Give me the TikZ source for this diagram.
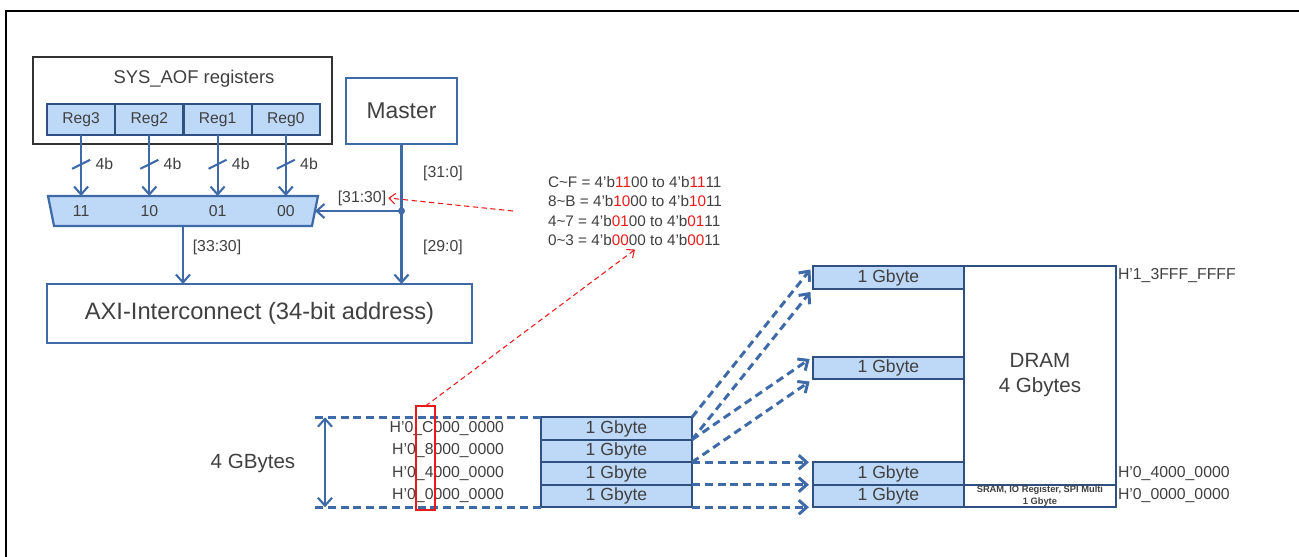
\documentclass[tikz,border=0pt]{standalone}
\usepackage{fontspec}
\setmainfont{Liberation Sans}
\usetikzlibrary{arrows.meta,positioning,shapes.geometric,calc}

\definecolor{wireblue}{RGB}{62,106,167}
\definecolor{cellline}{RGB}{47,80,128}
\definecolor{cellfill}{RGB}{190,216,247}
\definecolor{textgray}{RGB}{64,64,64}
\definecolor{framegray}{RGB}{51,51,51}
\definecolor{hired}{RGB}{235,25,25}

\newcommand{\hi}[1]{\textcolor{hired}{#1}}

\begin{document}
\begin{tikzpicture}[
    x=0.02cm, y=-0.02cm,
    every node/.style={text=textgray},
    cell/.style={draw=cellline, fill=cellfill, line width=1.3pt, minimum width=3.02cm, minimum height=0.45cm, inner sep=0pt, outer sep=0pt, font=\fontsize{10}{12}\selectfont},
    reg/.style={cell, minimum width=1.365cm, minimum height=0.62cm, font=\fontsize{8.9}{10}\selectfont},
    blk/.style={draw=wireblue, line width=1.3pt, inner sep=0pt, outer sep=0pt, align=center},
    lbl/.style={font=\fontsize{9}{11}\selectfont, inner sep=1pt},
    addr/.style={font=\fontsize{9}{11}\selectfont, inner sep=1pt},
    sig/.style={draw=wireblue, line width=1.2pt, -{Straight Barb[length=4.5pt,width=8pt]}},
    map/.style={draw=wireblue, line width=1.7pt, dash pattern=on 4.5pt off 2.8pt, -{Straight Barb[length=4.5pt,width=8pt]}, shorten >=2.3pt},
    guide/.style={draw=wireblue, line width=1.7pt, dash pattern=on 4.5pt off 2.8pt},
    ptr/.style={draw=hired, line width=0.6pt, dash pattern=on 3pt off 2pt, -{Straight Barb[length=3.5pt,width=6pt]}}
]
\useasboundingbox (0,0) rectangle (1299,557);
\draw[line width=1.7pt] (1299,11) -- (6,11) -- (6,557);

% register block and mux
\node[draw=framegray, line width=1.4pt, minimum width=5.98cm, minimum height=1.74cm] (aof) at (182.5,100.5) {};
\node[font=\fontsize{10.5}{12}\selectfont] (aoftitle) at (194,79) {SYS\_AOF registers};
\node[reg] (reg3) at (81.1,119.5) {Reg3};
\node[reg, right=0pt of reg3] (reg2) {Reg2};
\node[reg, right=0pt of reg2] (reg1) {Reg1};
\node[reg, right=0pt of reg1] (reg0) {Reg0};

\node[minimum width=5.4cm, minimum height=0.6cm, inner sep=0pt, outer sep=0pt] (mux) at (183,211) {};
\filldraw[draw=wireblue, fill=cellfill, line width=1.3pt] (mux.north west) -- (mux.north east)
  -- ([xshift=-0.12cm]mux.south east) -- ([xshift=0.12cm]mux.south west) -- cycle;

\foreach \r/\v in {reg3/11,reg2/10,reg1/01,reg0/00}{
  \draw[sig] (\r.south) -- coordinate[pos=0.48] (\r bus) (\r.south |- mux.north);
  \draw[wireblue, line width=1.2pt] ($(\r bus)+(-9,4.5)$) -- ($(\r bus)+(9,-4.5)$);
  \node[lbl, right=7pt of \r bus] {4b};
  \node[lbl] at (\r.center |- mux.center) {\v};
}

\node[blk, minimum width=2.22cm, minimum height=1.32cm, font=\fontsize{13}{15}\selectfont] (master) at (401.5,111) {Master};
\node[blk, minimum width=8.5cm, minimum height=1.18cm, font=\fontsize{13.5}{16}\selectfont] (axi) at (259.5,313.5) {AXI-Interconnect (34-bit address)};

\coordinate (tap) at (master.south |- mux.center);
\draw[sig] (master.south) -- (master.south |- axi.north);
\draw[sig] (tap) -- ([xshift=-0.06cm]mux.east);
\fill[wireblue] (tap) circle (2pt);
\draw[sig] (mux.south) -- (mux.south |- axi.north);

\node[lbl] (b310) at (443,173) {[31:0]};
\node[lbl] (b3130) at (362,198) {[31:30]};
\node[lbl] (b290) at (443,247) {[29:0]};
\node[lbl] (b3330) at (217,247) {[33:30]};

% address bit codes
\node[font=\fontsize{8.7}{11.05}\selectfont, align=left, inner sep=2pt] (codes) at (635,211)
  {C\textasciitilde F = 4’b\hi{11}00 to 4’b\hi{11}11\\
   8\textasciitilde B = 4’b\hi{10}00 to 4’b\hi{10}11\\
   4\textasciitilde 7 = 4’b\hi{01}00 to 4’b\hi{01}11\\
   0\textasciitilde 3 = 4’b\hi{00}00 to 4’b\hi{00}11};
\coordinate (ptrtail) at (513,211);
\draw[ptr] (ptrtail) -- (b3130.east);

% 4 GB address window
\node[cell] (lc) at (616.5,428.5) {1 Gbyte};
\node[cell, below=0pt of lc] (l8) {1 Gbyte};
\node[cell, below=0pt of l8] (l4) {1 Gbyte};
\node[cell, below=0pt of l4] (l0) {1 Gbyte};

\node[addr, left=0.7cm of lc] (ac) {H’0\_C000\_0000};
\node[addr, left=0.7cm of l8] (a8) {H’0\_8000\_0000};
\node[addr, left=0.7cm of l4] (a4) {H’0\_4000\_0000};
\node[addr, left=0.7cm of l0] (a0) {H’0\_0000\_0000};

\coordinate (gtop) at (315,0 |- lc.north);
\coordinate (gbot) at (315,0 |- l0.south);
\draw[guide] (gtop) -- (lc.north west);
\draw[guide] (gbot) -- (l0.south west);
\draw[sig, {Straight Barb[length=4.5pt,width=8pt]}-{Straight Barb[length=4.5pt,width=8pt]}] ([xshift=0.2cm]gtop) -- ([xshift=0.2cm]gbot);
\node[font=\fontsize{11.7}{14}\selectfont] (total) at (253,463) {4 GBytes};

\node[draw=hired, line width=1.1pt, minimum width=0.38cm, minimum height=2.08cm, inner sep=0pt, outer sep=0pt] (sel) at (425.5,458) {};
\draw[ptr] (sel.north) -- (codes.south);

% physical map
\node[cell, right=2.42cm of l0] (r0) {1 Gbyte};
\node[cell, above=0pt of r0] (r1) {1 Gbyte};
\node[cell, above=1.66cm of r1] (r2) {1 Gbyte};
\node[cell, above=1.36cm of r2] (rt) {1 Gbyte};

\node[draw=cellline, line width=1.3pt, fill=white, minimum width=3.04cm, minimum height=4.37cm, inner sep=0pt, outer sep=0pt,
      anchor=north west, align=center, font=\fontsize{11.7}{14.2}\selectfont] (dram) at (rt.north east) {DRAM\\4 Gbytes};
\node[draw=cellline, line width=1.3pt, fill=white, minimum width=3.04cm, minimum height=0.45cm, inner sep=0pt, outer sep=0pt,
      anchor=north west, align=center, font=\fontsize{5.3}{6.8}\selectfont\bfseries] (sram) at (r0.north east) {SRAM, IO Register, SPI Multi\\1 Gbyte};

\node[addr, anchor=north west] at (dram.north east) {H’1\_3FFF\_FFFF};
\node[addr, anchor=west] at (r1 -| dram.east) {H’0\_4000\_0000};
\node[addr, anchor=west] at (r0 -| sram.east) {H’0\_0000\_0000};

\foreach \a/\b in {lc.north east/rt.north west, lc.south east/rt.south west, l8.north east/r2.north west, l8.south east/r2.south west,
                   l4.north east/r1.north west, l0.north east/r0.north west, l0.south east/r0.south west}
  \draw[map] (\a) -- (\b);
\end{tikzpicture}
\end{document}
